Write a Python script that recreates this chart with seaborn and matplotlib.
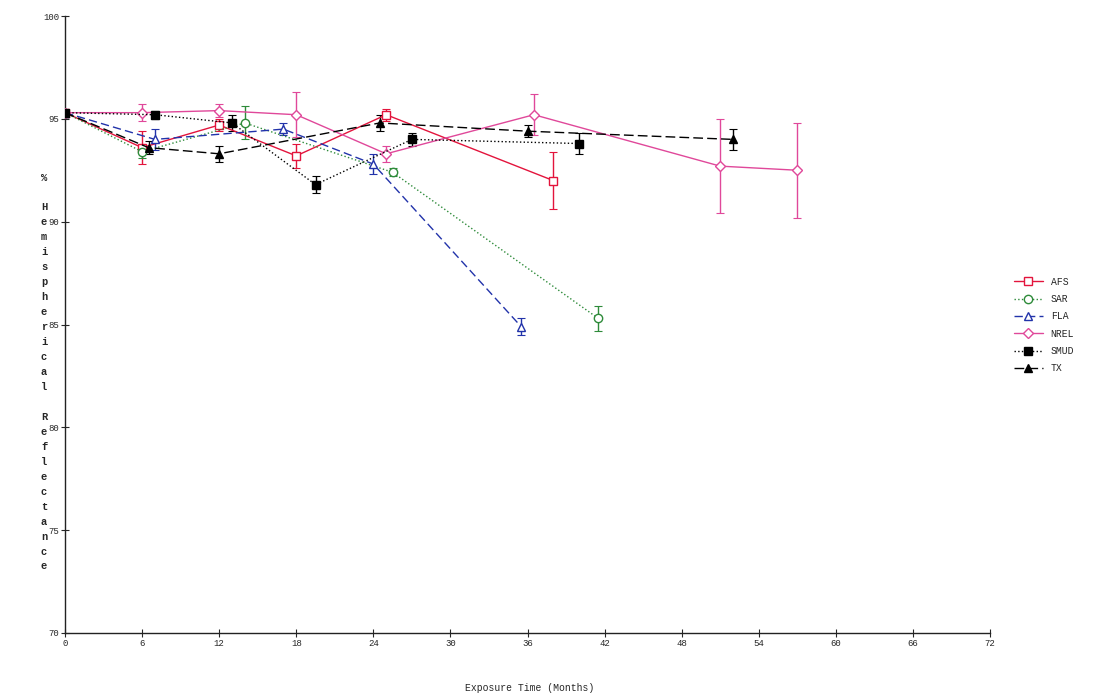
import pandas as pd
import seaborn as sns
import matplotlib.pyplot as plt

# exposure months and reflectance (%) per site
months_afs = [0, 6, 12, 18, 25, 38]
refl_afs = [95.3, 93.6, 94.7, 93.2, 95.2, 92.0]
err_afs = [0.1, 0.8, 0.3, 0.6, 0.3, 1.4]

months_sar = [0, 6, 14, 25.5, 41.5]
refl_sar = [95.3, 93.4, 94.8, 92.4, 85.3]
err_sar = [0.1, 0.3, 0.8, 0.2, 0.6]

months_fla = [0, 7, 17, 24, 35.5]
refl_fla = [95.3, 94.0, 94.5, 92.8, 84.9]
err_fla = [0.1, 0.5, 0.3, 0.5, 0.4]

months_nrel = [0, 6, 12, 18, 25, 36.5, 51, 57]
refl_nrel = [95.3, 95.3, 95.4, 95.2, 93.3, 95.2, 92.7, 92.5]
err_nrel = [0.1, 0.4, 0.3, 1.1, 0.4, 1.0, 2.3, 2.3]

months_smud = [0, 7, 13, 19.5, 27, 40]
refl_smud = [95.3, 95.2, 94.8, 91.8, 94.0, 93.8]
err_smud = [0.1, 0.2, 0.4, 0.4, 0.3, 0.5]

months_tx = [0, 6.5, 12, 24.5, 36, 52]
refl_tx = [95.3, 93.6, 93.3, 94.8, 94.4, 94.0]
err_tx = [0.1, 0.3, 0.4, 0.4, 0.3, 0.5]

sites = ['AFS', 'SAR', 'FLA', 'NREL', 'SMUD', 'TX']
colors = ['#e3143c', '#2e8b3a', '#2233aa', '#e0489a', 'black', 'black']
markers = ['s', 'o', '^', 'D', 's', '^']
filled = [False, False, False, False, True, True]
dashes = ['-', ':', (0, (6, 3)), '-', ':', (0, (7, 3))]

rows = []
for site, m, r, e in zip(sites,
                         [months_afs, months_sar, months_fla, months_nrel, months_smud, months_tx],
                         [refl_afs, refl_sar, refl_fla, refl_nrel, refl_smud, refl_tx],
                         [err_afs, err_sar, err_fla, err_nrel, err_smud, err_tx]):
    for mi, ri, ei in zip(m, r, e):
        rows.append({'site': site, 'month': mi, 'refl': ri, 'err': ei})
df = pd.DataFrame(rows)

sns.set_style('ticks')
plt.rcParams['font.family'] = ['Liberation Mono', 'DejaVu Sans Mono']

fig = plt.figure(figsize=(11.17, 6.98), dpi=100)
ax = fig.add_axes([65 / 1117, 65 / 698, 925 / 1117, 617 / 698])

for site, c, mk, fl, ls in zip(sites, colors, markers, filled, dashes):
    sub = df[df.site == site]
    ax.errorbar(sub.month, sub.refl, yerr=sub.err, fmt='none', ecolor=c,
                elinewidth=1.0, capsize=3, capthick=0.8, zorder=2)
    sns.lineplot(data=sub, x='month', y='refl', ax=ax, sort=False, color=c,
                 linewidth=1.0, linestyle=ls, marker=mk, markersize=6 if mk != 'D' else 5,
                 markerfacecolor=c if fl else 'white', markeredgecolor=c,
                 markeredgewidth=1.0, label=site, zorder=3)

ax.set_xlim(0, 72)
ax.set_ylim(70, 100)
ax.set_xticks(range(0, 73, 6))
ax.set_yticks(range(70, 101, 5))
ax.tick_params(axis='both', direction='inout', length=6, width=0.8, labelsize=6.5, pad=1)
ax.set_xlabel('')
ax.set_ylabel('')
for s in ['top', 'right']:
    ax.spines[s].set_visible(False)
for s in ['left', 'bottom']:
    ax.spines[s].set_linewidth(1.0)
    ax.spines[s].set_color('#222222')

ax.get_legend().remove()
h, l = ax.get_legend_handles_labels()
fig.legend(h, l, loc='upper left', bbox_to_anchor=(1005 / 1117, 1 - 268 / 698),
           frameon=False, fontsize=7, handlelength=3, labelspacing=0.75, handletextpad=0.8)

fig.text(530 / 1117, 1 - 688 / 698, 'Exposure Time (Months)', ha='center', va='center', fontsize=7)
fig.text(44 / 1117, 1 - 372 / 698, '\n'.join('% Hemispherical Reflectance'),
         ha='center', va='center', fontsize=7.5, linespacing=1.62, fontweight='bold')

fig.savefig('out.png', dpi=100)
